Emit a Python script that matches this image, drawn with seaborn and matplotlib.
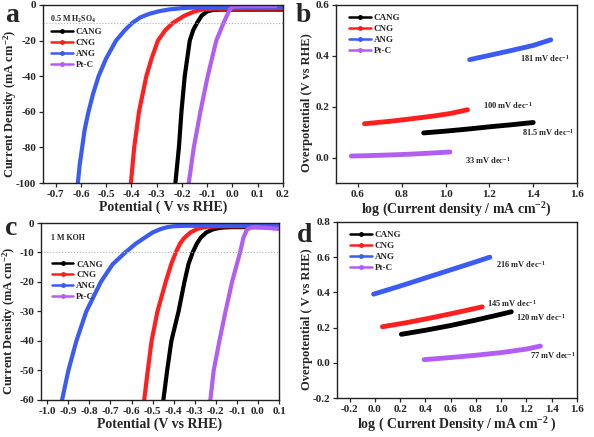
import matplotlib
matplotlib.use('Agg')
import matplotlib.pyplot as plt
from matplotlib.lines import Line2D
import pandas as pd
import seaborn as sns

# ---- data ----
samples = ['CANG', 'CNG', 'ANG', 'Pt-C']
colors = {'CANG': '#000000', 'CNG': '#ff1f1f', 'ANG': '#3b5cf2', 'Pt-C': '#b35ef2'}

# (a) LSV in 0.5 M H2SO4 : potential (V vs RHE), current density (mA cm-2)
a_cang_E = [-0.226, -0.212, -0.202, -0.189, -0.179, -0.169, -0.155, -0.140, -0.122, -0.100, -0.080, -0.050, 0.0, 0.2]
a_cang_j = [-100, -80, -60, -40, -30, -20, -14, -10, -6, -3.6, -2.9, -2.6, -2.6, -2.6]
a_cng_E = [-0.402, -0.389, -0.370, -0.341, -0.320, -0.295, -0.265, -0.235, -0.190, -0.150, -0.120, -0.080, 0.2]
a_cng_j = [-100, -80, -60, -40, -30, -20, -14, -10, -6, -3.6, -2.6, -2.1, -2.0]
a_ang_E = [-0.612, -0.605, -0.595, -0.585, -0.570, -0.552, -0.530, -0.500, -0.461, -0.425, -0.396, -0.365, -0.330, -0.290, -0.250, -0.200, -0.150, 0.0, 0.2]
a_ang_j = [-100, -90, -80, -70, -60, -50, -40, -30, -20, -14, -10, -7, -5, -3.5, -2.5, -1.8, -1.4, -1.1, -1.0]
a_ptc_E = [-0.173, -0.153, -0.127, -0.098, -0.064, -0.035, -0.022, -0.012, -0.004, 0.005, 0.05, 0.17]
a_ptc_j = [-100, -80, -60, -40, -20, -10, -6, -3, -1.6, -0.9, -0.7, -0.6]

# (b) Tafel in acid : log j, overpotential (V)
b_cang_x = [0.90, 1.00, 1.10, 1.20, 1.30, 1.40]
b_cang_y = [0.097, 0.104, 0.112, 0.121, 0.129, 0.138]
b_cng_x = [0.63, 0.75, 0.85, 0.95, 1.02, 1.10]
b_cng_y = [0.133, 0.143, 0.153, 0.164, 0.173, 0.188]
b_ang_x = [1.11, 1.20, 1.30, 1.40, 1.48]
b_ang_y = [0.385, 0.402, 0.421, 0.441, 0.463]
b_ptc_x = [0.57, 0.70, 0.80, 0.90, 1.02]
b_ptc_y = [0.006, 0.009, 0.012, 0.016, 0.022]
b_slopes = ['81.5', '100', '181', '33']

# (c) LSV in 1 M KOH
c_cang_E = [-0.449, -0.431, -0.411, -0.377, -0.349, -0.330, -0.310, -0.290, -0.272, -0.245, -0.215, -0.185, -0.160, -0.120, -0.050, 0.1]
c_cang_j = [-60, -50, -40, -30, -20, -14, -10, -7, -5, -3.2, -2.2, -1.7, -1.5, -1.4, -1.4, -1.4]
c_cng_E = [-0.540, -0.523, -0.505, -0.477, -0.438, -0.412, -0.390, -0.370, -0.349, -0.320, -0.288, -0.260, -0.240, -0.200, -0.150, 0.1]
c_cng_j = [-60, -50, -40, -30, -20, -14, -10, -7, -5, -3.2, -2.0, -1.5, -1.3, -1.15, -1.1, -1.1]
c_ang_E = [-0.930, -0.900, -0.862, -0.815, -0.746, -0.690, -0.630, -0.580, -0.538, -0.500, -0.460, -0.430, -0.400, -0.350, -0.200, 0.1]
c_ang_j = [-60, -50, -40, -30, -20, -14, -10, -7, -5, -3.2, -2.0, -1.4, -1.1, -0.95, -0.9, -0.9]
c_ptc_E = [-0.226, -0.210, -0.183, -0.154, -0.123, -0.100, -0.085, -0.069, -0.054, -0.042, -0.030, -0.010, 0.03, 0.1]
c_ptc_j = [-60, -50, -40, -30, -20, -14, -10, -5, -2.5, -1.8, -1.5, -1.4, -1.6, -2.0]

# (d) Tafel in base
d_cang_x = [0.21, 0.40, 0.60, 0.80, 1.00, 1.08]
d_cang_y = [0.162, 0.185, 0.212, 0.243, 0.276, 0.290]
d_cng_x = [0.06, 0.25, 0.45, 0.65, 0.85]
d_cng_y = [0.205, 0.228, 0.256, 0.286, 0.318]
d_ang_x = [-0.01, 0.20, 0.40, 0.60, 0.80, 0.91]
d_ang_y = [0.390, 0.436, 0.482, 0.528, 0.574, 0.600]
d_ptc_x = [0.39, 0.60, 0.80, 1.00, 1.20, 1.31]
d_ptc_y = [0.018, 0.030, 0.043, 0.058, 0.078, 0.095]
d_slopes = ['120', '145', '216', '77']


def long_df(xs, ys):
    rows = []
    for s, x, y in zip(samples, xs, ys):
        for i in range(len(x)):
            rows.append((s, i, x[i], y[i]))
    return pd.DataFrame(rows, columns=['sample', 'order', 'x', 'y'])


df_a = long_df([a_cang_E, a_cng_E, a_ang_E, a_ptc_E], [a_cang_j, a_cng_j, a_ang_j, a_ptc_j])
df_b = long_df([b_cang_x, b_cng_x, b_ang_x, b_ptc_x], [b_cang_y, b_cng_y, b_ang_y, b_ptc_y])
df_c = long_df([c_cang_E, c_cng_E, c_ang_E, c_ptc_E], [c_cang_j, c_cng_j, c_ang_j, c_ptc_j])
df_d = long_df([d_cang_x, d_cng_x, d_ang_x, d_ptc_x], [d_cang_y, d_cng_y, d_ang_y, d_ptc_y])

sns.set_style('ticks')
plt.rcParams['font.family'] = ['Liberation Serif', 'DejaVu Serif']
plt.rcParams['font.weight'] = 'bold'
plt.rcParams['axes.labelweight'] = 'bold'
plt.rcParams['mathtext.fontset'] = 'custom'
plt.rcParams['mathtext.rm'] = 'Liberation Serif:bold'
plt.rcParams['mathtext.it'] = 'Liberation Serif:bold'
plt.rcParams['mathtext.bf'] = 'Liberation Serif:bold'
plt.rcParams['axes.unicode_minus'] = False

fig = plt.figure(figsize=(5.94, 4.37), dpi=100)
ax_a = fig.add_axes([0.0724, 0.5812, 0.404, 0.4074])
ax_b = fig.add_axes([0.5657, 0.5812, 0.4057, 0.4074])
ax_c = fig.add_axes([0.069, 0.0847, 0.4007, 0.405])
ax_d = fig.add_axes([0.5673, 0.0892, 0.404, 0.4028])


def draw(ax, df, lw):
    sns.lineplot(data=df, x='x', y='y', hue='sample', units='sample', estimator=None,
                 sort=False, palette=colors, hue_order=samples, lw=lw, ax=ax,
                 legend=False)
    ax.set_xlabel('')
    ax.set_ylabel('')
    for sp in ax.spines.values():
        sp.set_linewidth(1.0)
        sp.set_color('#222222')
    ax.tick_params(direction='out', length=3, width=0.9, labelsize=8, pad=2)
    for t in ax.get_xticklabels() + ax.get_yticklabels():
        t.set_fontweight('bold')
    handles = [Line2D([], [], color=colors[s], lw=1.8, marker='o', ms=2.5) for s in samples]
    return handles


def legend(ax, handles, anchor):
    ax.legend(handles, samples, loc='upper left', bbox_to_anchor=anchor, frameon=False,
              prop={'family': 'Liberation Serif', 'weight': 'bold', 'size': 6.5},
              handlelength=2.4, labelspacing=0.28, handletextpad=0.3, borderaxespad=0)


def labels(ax, xl, yl, xpos, ypos):
    ax.set_xlabel(xl, fontsize=10, labelpad=1)
    ax.set_ylabel(yl, fontsize=9)
    ax.yaxis.set_label_coords(xpos, ypos)


# ---- (a) ----
h = draw(ax_a, df_a, 3.0)
ax_a.axhline(-10, color='#9fb4cc', lw=0.8, ls=':')
ax_a.set_xlim(-0.75, 0.2)
ax_a.set_ylim(-100, 0)
ax_a.set_xticks([-0.7, -0.6, -0.5, -0.4, -0.3, -0.2, -0.1, 0.0, 0.1, 0.2])
ax_a.set_yticks([-100, -80, -60, -40, -20, 0])
labels(ax_a, 'Potential ( V vs RHE)', 'Current Density (mA cm$^{-2}$)', -0.1, 0.445)
ax_a.text(0.03, 0.95, '0.5 M H$_2$SO$_4$', transform=ax_a.transAxes, fontsize=5.8,
          fontweight='bold', va='top')
legend(ax_a, h, (0.02, 0.89))

# ---- (b) ----
h = draw(ax_b, df_b, 3.5)
ax_b.set_xlim(0.5, 1.6)
ax_b.set_ylim(-0.1, 0.6)
ax_b.set_xticks([0.6, 0.8, 1.0, 1.2, 1.4, 1.6])
ax_b.set_yticks([0.0, 0.2, 0.4, 0.6])
labels(ax_b, 'log (Current density / mA cm$^{-2}$)', 'Overpotential (V vs RHE)', -0.095, 0.45)
b_text_pos = [(1.35, 0.10), (1.17, 0.205), (1.34, 0.39), (1.09, -0.01)]
for lab, (x, y) in zip(b_slopes, b_text_pos):
    ax_b.text(x, y, lab + ' mV dec$^{-1}$', fontsize=6, fontweight='bold', va='center')
legend(ax_b, h, (0.04, 0.97))

# ---- (c) ----
h = draw(ax_c, df_c, 3.0)
ax_c.axhline(-10, color='#9fb4cc', lw=0.8, ls=':')
ax_c.set_xlim(-1.03, 0.1)
ax_c.set_ylim(-60, 0)
ax_c.set_xticks([-1.0, -0.9, -0.8, -0.7, -0.6, -0.5, -0.4, -0.3, -0.2, -0.1, 0.0, 0.1])
ax_c.set_yticks([-60, -50, -40, -30, -20, -10, 0])
labels(ax_c, 'Potential (V vs RHE)', 'Current Density (mA cm$^{-2}$)', -0.097, 0.45)
ax_c.text(0.04, 0.94, '1 M KOH', transform=ax_c.transAxes, fontsize=5.8,
          fontweight='bold', va='top')
legend(ax_c, h, (0.03, 0.81))

# ---- (d) ----
h = draw(ax_d, df_d, 3.5)
ax_d.set_xlim(-0.3, 1.6)
ax_d.set_ylim(-0.2, 0.8)
ax_d.set_xticks([-0.2, 0.0, 0.2, 0.4, 0.6, 0.8, 1.0, 1.2, 1.4, 1.6])
ax_d.set_yticks([-0.2, 0.0, 0.2, 0.4, 0.6, 0.8])
labels(ax_d, 'log ( Current Density / mA cm$^{-2}$ )', 'Overpotential ( V vs RHE)', -0.1, 0.45)
d_text_pos = [(1.12, 0.255), (0.89, 0.335), (0.96, 0.56), (1.23, 0.04)]
for lab, (x, y) in zip(d_slopes, d_text_pos):
    ax_d.text(x, y, lab + ' mV dec$^{-1}$', fontsize=6, fontweight='bold', va='center')
legend(ax_d, h, (0.04, 0.97))

# panel letters
for letter, (x, y) in zip('abcd', [(0.008, 0.95), (0.497, 0.95), (0.008, 0.462), (0.5, 0.447)]):
    fig.text(x, y, letter, fontsize=20, fontweight='bold', va='baseline', ha='left')

fig.savefig('out.png', dpi=100)
